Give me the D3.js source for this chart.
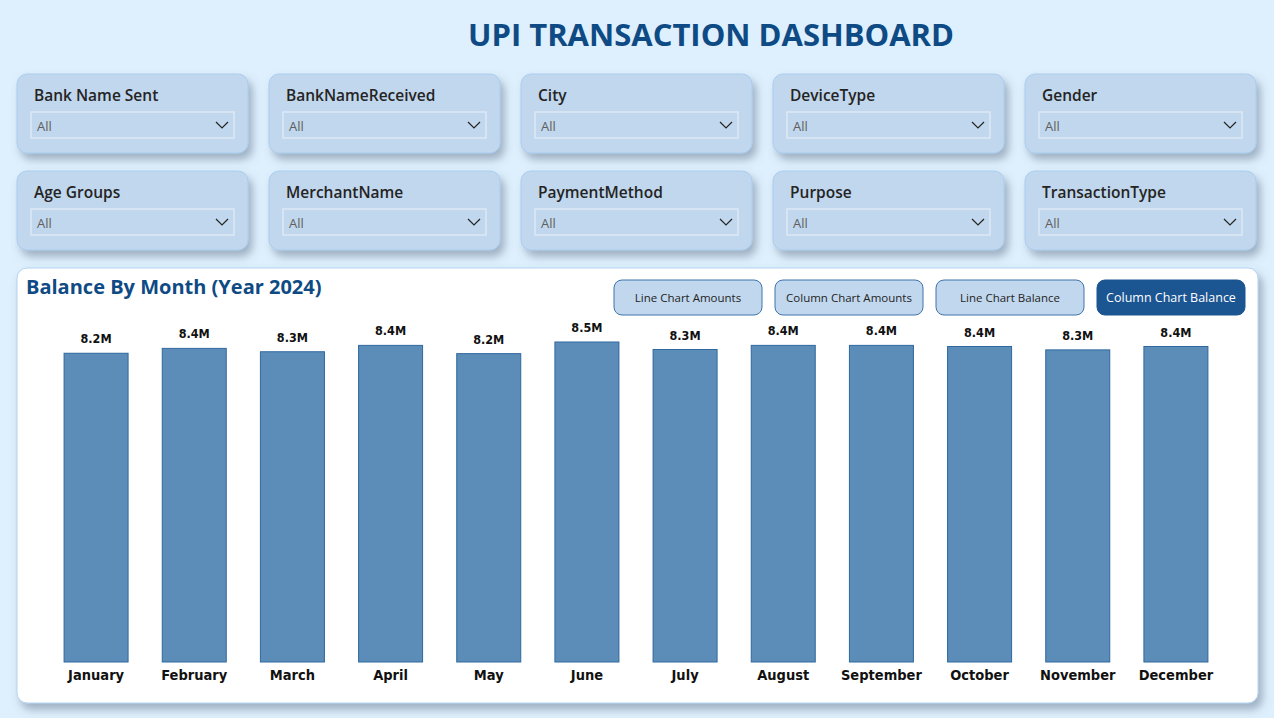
<!DOCTYPE html>
<html>
<head>
<meta charset="utf-8">
<script src="https://cdn.jsdelivr.net/npm/d3@7"></script>
<style>
  html, body { margin: 0; padding: 0; background: #deeffd; }
  svg { display: block; }
</style>
</head>
<body>
<div id="chart"></div>
<script>
// data
const months = ['January', 'February', 'March', 'April', 'May', 'June',
    'July', 'August', 'September', 'October', 'November', 'December'];
const balance = [8.23e6, 8.36e6, 8.27e6, 8.44e6, 8.22e6, 8.53e6,
    8.33e6, 8.44e6, 8.44e6, 8.41e6, 8.32e6, 8.41e6];
const slicerRow1 = ['Bank Name Sent', 'BankNameReceived', 'City', 'DeviceType', 'Gender'];
const slicerRow2 = ['Age Groups', 'MerchantName', 'PaymentMethod', 'Purpose', 'TransactionType'];
const buttons = ['Line Chart Amounts', 'Column Chart Amounts', 'Line Chart Balance', 'Column Chart Balance'];
const activeButton = 'Column Chart Balance';

const W = 1274, H = 718;
const font = "'Open Sans', 'Noto Sans', sans-serif";
const barFont = "'DejaVu Sans Condensed', 'DejaVu Sans', sans-serif";

const svg = d3.select('#chart')
    .append('svg')
    .attr('width', W)
    .attr('height', H);

const defs = svg.append('defs');
const shadow = defs.append('filter')
    .attr('id', 'shadow')
    .attr('x', '-10%').attr('y', '-10%')
    .attr('width', '125%').attr('height', '140%');
shadow.append('feDropShadow')
    .attr('dx', 4).attr('dy', 6)
    .attr('stdDeviation', 4.5)
    .attr('flood-color', '#5d7186')
    .attr('flood-opacity', 0.5);

svg.append('rect')
    .attr('width', W).attr('height', H)
    .attr('fill', '#deeffd');

svg.append('text')
    .attr('x', 711)
    .attr('y', 46)
    .attr('text-anchor', 'middle')
    .style('font-family', font)
    .style('font-size', '31px')
    .style('font-weight', 700)
    .style('fill', '#0e4a84')
    .text('UPI TRANSACTION DASHBOARD');

// slicers
const slicerX = d3.scalePoint()
    .domain(d3.range(5))
    .range([17, 1025]);
const slicerW = 231, slicerH = 79;

function drawSlicers(names, top) {
    const g = svg.append('g').selectAll('g')
        .data(names)
        .enter()
        .append('g')
        .attr('transform', (d, i) => 'translate(' + slicerX(i) + ',' + top + ')');

    g.append('rect')
        .attr('width', slicerW)
        .attr('height', slicerH)
        .attr('rx', 10)
        .attr('fill', '#c0d7ee')
        .attr('stroke', '#a9cdef')
        .attr('stroke-width', 1)
        .attr('filter', 'url(#shadow)');

    g.append('text')
        .attr('x', 17)
        .attr('y', 27)
        .style('font-family', font)
        .style('font-size', '15.5px')
        .style('font-weight', 600)
        .style('fill', '#252423')
        .text(d => d);

    g.append('rect')
        .attr('x', 14)
        .attr('y', 38)
        .attr('width', 203)
        .attr('height', 26)
        .attr('fill', 'none')
        .attr('stroke', '#dde9f5')
        .attr('stroke-width', 1.5);

    g.append('text')
        .attr('x', 20)
        .attr('y', 57)
        .style('font-family', font)
        .style('font-size', '13px')
        .style('fill', '#605e5c')
        .text('All');

    g.append('path')
        .attr('d', 'M199,48 L205,54 L211,48')
        .attr('fill', 'none')
        .attr('stroke', '#252423')
        .attr('stroke-width', 1.2);
}
drawSlicers(slicerRow1, 74);
drawSlicers(slicerRow2, 171);

// chart panel
svg.append('rect')
    .attr('x', 17)
    .attr('y', 268)
    .attr('width', 1241)
    .attr('height', 435)
    .attr('rx', 10)
    .attr('fill', '#ffffff')
    .attr('stroke', '#b3d3f1')
    .attr('stroke-width', 1)
    .attr('filter', 'url(#shadow)');

svg.append('text')
    .attr('x', 26)
    .attr('y', 294)
    .style('font-family', font)
    .style('font-size', '20px')
    .style('font-weight', 700)
    .style('fill', '#0e4a84')
    .text('Balance By Month (Year 2024)');

// toggle buttons
const btnX = d3.scalePoint()
    .domain(buttons)
    .range([614, 1097]);
const btn = svg.append('g').selectAll('g')
    .data(buttons)
    .enter()
    .append('g')
    .attr('transform', d => 'translate(' + btnX(d) + ',280)');
btn.append('rect')
    .attr('width', 148)
    .attr('height', 35)
    .attr('rx', 8)
    .attr('fill', d => d === activeButton ? '#1b5592' : '#c0d7ee')
    .attr('stroke', d => d === activeButton ? '#1b5592' : '#3f74aa')
    .attr('stroke-width', 1);
btn.append('text')
    .attr('x', 74)
    .attr('y', 22)
    .attr('text-anchor', 'middle')
    .style('font-family', font)
    .style('font-size', d => d === activeButton ? '12.5px' : '11.5px')
    .style('fill', d => d === activeButton ? '#ffffff' : '#252423')
    .text(d => d);

// columns
const baseline = 662;
const x = d3.scaleBand()
    .domain(months)
    .range([47, 1225])
    .paddingInner(0.348)
    .paddingOuter(0.174);
const y = d3.scaleLinear()
    .domain([0, 8.53e6])
    .range([baseline, 342]);

const fmt = v => d3.format('.1f')(v / 1e6) + 'M';

const bars = svg.append('g');
bars.selectAll('rect')
    .data(months)
    .enter()
    .append('rect')
    .attr('x', d => x(d))
    .attr('y', (d, i) => y(balance[i]))
    .attr('width', x.bandwidth())
    .attr('height', (d, i) => baseline - y(balance[i]))
    .attr('fill', '#5b8db8')
    .attr('stroke', '#2f689f')
    .attr('stroke-width', 1);

bars.selectAll('.val')
    .data(months)
    .enter()
    .append('text')
    .attr('class', 'val')
    .attr('x', d => x(d) + x.bandwidth() / 2)
    .attr('y', (d, i) => y(balance[i]) - 10)
    .attr('text-anchor', 'middle')
    .style('font-family', barFont)
    .style('font-size', '12.5px')
    .style('font-weight', 700)
    .style('fill', '#111111')
    .text((d, i) => fmt(balance[i]));

const xAxis = svg.append('g')
    .attr('transform', 'translate(0,' + baseline + ')')
    .call(d3.axisBottom(x).tickSize(0).tickPadding(8));
xAxis.select('.domain').remove();
xAxis.selectAll('text')
    .style('font-family', barFont)
    .style('font-size', '14.5px')
    .style('font-weight', 700)
    .style('fill', '#111111');
</script>
</body>
</html>
